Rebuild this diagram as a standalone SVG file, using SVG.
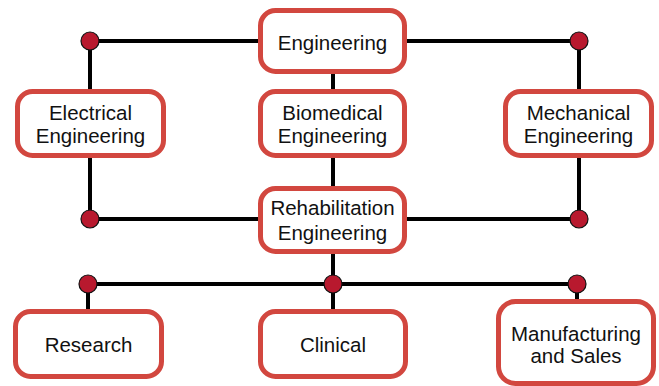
<svg xmlns="http://www.w3.org/2000/svg" width="659" height="386" viewBox="0 0 659 386">
<style>
.box{fill:#fff;stroke:#D2473F;stroke-width:5}
.t{font-family:"Liberation Sans",Arial,sans-serif;font-size:20.5px;fill:#111;text-anchor:middle}
.ln{stroke:#000;stroke-width:4;fill:none}
.dot{fill:#B8192E;stroke:#111;stroke-width:1.2}
</style>
<rect width="659" height="386" fill="#fff"/>
<g id="connectors">
<path class="ln" d="M90 41H579M90 41V92M90 156V219H579M579 41V92M579 156V219M333 72V92M333 156V188M333 252V311M88 284H577M88 284V311M577 284V301"/>
<circle class="dot" cx="90" cy="41" r="9"/>
<circle class="dot" cx="579" cy="41" r="9"/>
<circle class="dot" cx="90" cy="219" r="9"/>
<circle class="dot" cx="579" cy="219" r="9"/>
<circle class="dot" cx="88" cy="284" r="9"/>
<circle class="dot" cx="333" cy="284" r="9"/>
<circle class="dot" cx="577" cy="284" r="9"/>
</g>
<g id="engineering"><rect class="box" x="260.5" y="10.5" width="144" height="61" rx="15"/><text class="t" x="332.5" y="50">Engineering</text></g>
<g id="electrical"><rect class="box" x="17.5" y="91.5" width="146" height="64" rx="15"/><text class="t" x="90.5" y="119.5">Electrical</text><text class="t" x="90.5" y="143">Engineering</text></g>
<g id="biomedical"><rect class="box" x="260.5" y="91.5" width="144" height="64" rx="15"/><text class="t" x="332.5" y="119.5">Biomedical</text><text class="t" x="332.5" y="143">Engineering</text></g>
<g id="mechanical"><rect class="box" x="505.5" y="91.5" width="146" height="64" rx="15"/><text class="t" x="578.5" y="119.5">Mechanical</text><text class="t" x="578.5" y="143">Engineering</text></g>
<g id="rehabilitation"><rect class="box" x="260.5" y="188.5" width="144" height="63" rx="15"/><text class="t" x="332.5" y="215">Rehabilitation</text><text class="t" x="332.5" y="239.5">Engineering</text></g>
<g id="research"><rect class="box" x="15.5" y="311.5" width="146" height="65" rx="15"/><text class="t" x="88.5" y="352">Research</text></g>
<g id="clinical"><rect class="box" x="260.5" y="311.5" width="145" height="65" rx="15"/><text class="t" x="333" y="352">Clinical</text></g>
<g id="manufacturing"><rect class="box" x="498.5" y="301.5" width="155" height="82" rx="17"/><text class="t" x="576" y="341">Manufacturing</text><text class="t" x="576" y="363">and Sales</text></g>
</svg>
